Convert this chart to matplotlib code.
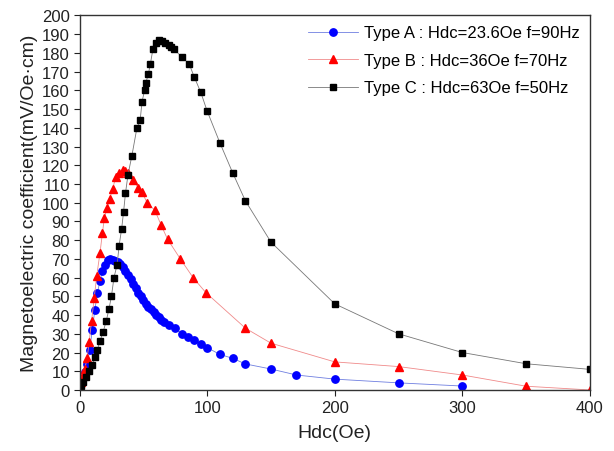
import matplotlib
matplotlib.use('Agg')
import matplotlib.pyplot as plt

plt.rcParams['font.family'] = ['Liberation Sans', 'DejaVu Sans']

# Type A : Hdc=23.6Oe f=90Hz
hdc_a = [2, 4, 6, 8, 10, 12, 14, 16, 18, 20, 22, 24, 26, 28, 30, 32, 34, 36, 38, 40,
         42, 44, 46, 48, 50, 52, 54, 56, 58, 60, 62, 64, 66, 70, 75, 80, 85, 90, 95, 100,
         110, 120, 130, 150, 170, 200, 250, 300]
me_a = [4.4, 9.8, 13.7, 21.3, 32, 42.7, 51.6, 58.3, 63.6, 67, 69.3, 69.9, 69.5, 69, 68.5, 67.5, 65.5, 63.5, 61.5, 59.5,
        56.5, 54.5, 52, 50, 48, 46, 44.5, 43, 41.5, 40, 38.8, 37.5, 36.3, 34.5, 33, 30, 28.3, 26.7, 24.7, 22.6,
        19, 16.9, 13.9, 11.2, 8, 5.8, 3.8, 2.1]

# Type B : Hdc=36Oe f=70Hz
hdc_b = [0, 1.5, 3, 4, 6, 7.5, 9.5, 11.5, 13.5, 16, 18, 19.5, 21.5, 23.5, 26, 28.5, 31, 34, 36, 38,
         42, 46, 49, 53, 59, 64, 69, 79, 89, 99, 130, 150, 200, 250, 300, 350, 400]
me_b = [1, 4.5, 8, 11, 17, 25.5, 37, 49, 61, 73, 84, 92, 97, 102, 107.5, 114, 116, 117.5, 117, 116,
        112, 108, 105.5, 100, 96, 88, 80.5, 70, 60, 52, 33, 25, 15, 12.5, 8, 2, 0]

# Type C : Hdc=63Oe f=50Hz
hdc_c = [1, 3, 5, 7.5, 10, 12, 14, 16, 18.5, 21, 23, 25, 27, 29.5, 31, 33, 34.5, 36, 38, 41,
         45, 47.5, 49, 51, 52, 54, 55.5, 57.5, 60, 62.5, 64.5, 67, 70, 72, 74, 80, 86, 90, 95, 100,
         110, 120, 130, 150, 200, 250, 300, 350, 400]
me_c = [2, 4, 7, 10, 13.5, 17.5, 21.5, 26, 31, 37, 43, 50, 60, 67, 77, 86, 95, 105, 115, 125,
        140, 144, 154, 160, 164, 169, 174, 182, 185.5, 187, 186.5, 185.5, 184.5, 183, 182, 178, 174, 167, 159, 149,
        132, 116, 101, 79, 46, 30, 20, 14, 11]

labels = ['Type A : Hdc=23.6Oe f=90Hz', 'Type B : Hdc=36Oe f=70Hz', 'Type C : Hdc=63Oe f=50Hz']


def main():
    fig = plt.figure(figsize=(6.14, 4.52), dpi=100)
    ax = fig.add_axes([0.1295, 0.135, 0.8314, 0.8285])

    ax.plot(hdc_a, me_a, '-', color='#6f7fe0', lw=0.6, marker='o', ms=5.3,
            mfc='#0000ff', mec='#0000ff', label=labels[0])
    ax.plot(hdc_b, me_b, '-', color='#f08a8a', lw=0.6, marker='^', ms=5.8,
            mfc='#ff0000', mec='#ff0000', label=labels[1])
    ax.plot(hdc_c, me_c, '-', color='#777777', lw=0.6, marker='s', ms=4.8,
            mfc='#000000', mec='#000000', label=labels[2])

    ax.set_xlim(0, 400)
    ax.set_ylim(0, 200)
    ax.set_xticks(range(0, 401, 100))
    ax.set_yticks(range(0, 201, 10))
    ax.tick_params(direction='out', length=4, width=0.8, labelsize=12, colors='#222222', pad=3)
    for s in ax.spines.values():
        s.set_linewidth(1.0)
        s.set_color('#333333')

    ax.set_xlabel('Hdc(Oe)', fontsize=14, color='#222222', labelpad=7)
    ax.set_ylabel('Magnetoelectric coefficient(mV/Oe·cm)', fontsize=14, color='#222222', labelpad=3)

    ax.legend(loc='upper right', frameon=False, fontsize=12, handlelength=3.0,
              labelspacing=0.75, borderaxespad=0.3, borderpad=0.3, handletextpad=0.4)

    fig.savefig('out.png', dpi=100)


if __name__ == "__main__":
    main()
